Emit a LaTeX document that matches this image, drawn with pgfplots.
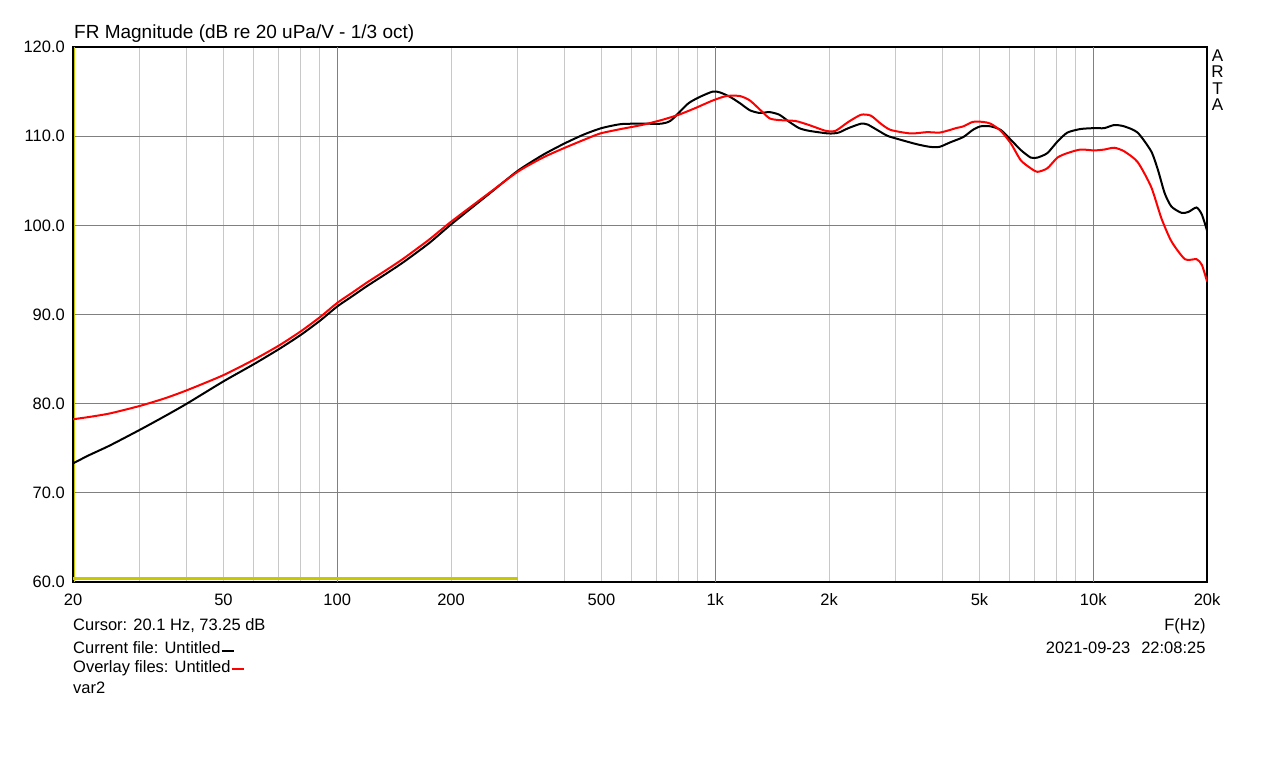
\documentclass[border=0pt]{standalone}
\usepackage{fontspec}
\setmainfont{Liberation Sans}
\usepackage{pgfplots}
\pgfplotsset{compat=1.18}
\definecolor{gridlight}{RGB}{200,200,200}
\definecolor{griddark}{RGB}{128,128,128}
\definecolor{cursoryel}{RGB}{200,200,0}
\definecolor{artared}{RGB}{255,0,0}

\pgfplotstableread{
f db
20 73.3
22 74.2
25 75.3
30 77.05
35 78.6
40 80.0
50 82.5
60 84.4
70 86.1
80 87.7
90 89.3
100 90.9
110 92.1
120 93.2
135 94.6
150 95.9
175 98.0
200 100.1
250 103.4
300 106.1
350 107.9
400 109.2
450 110.2
500 110.9
563 111.35
639 111.4
720 111.4
760 111.7
800 112.6
850 113.7
910 114.4
985 115.0
1030 114.9
1095 114.4
1162 113.7
1235 112.9
1311 112.6
1392 112.7
1478 112.4
1570 111.6
1667 110.9
1770 110.6
1996 110.3
2120 110.4
2250 110.9
2430 111.4
2530 111.3
2680 110.7
2850 110.05
3030 109.7
3410 109.1
3700 108.8
3920 108.8
4180 109.3
4530 109.9
4800 110.7
5030 111.1
5350 111.1
5690 110.7
6050 109.6
6430 108.45
6830 107.6
7120 107.6
7560 108.1
8040 109.4
8540 110.4
9250 110.8
10050 110.9
10690 110.9
11360 111.25
12070 111.1
13100 110.4
14230 108.3
14830 106.2
15450 103.6
16100 102.1
17120 101.4
17850 101.5
18760 102.0
19380 101.2
20000 99.4
}\blackdata

\pgfplotstableread{
f db
20 78.25
22 78.5
25 78.9
30 79.74
35 80.6
40 81.5
50 83.2
60 84.9
70 86.5
80 88.1
90 89.7
100 91.3
110 92.5
120 93.6
135 95.0
150 96.3
175 98.4
200 100.4
250 103.5
300 106.0
350 107.6
400 108.7
450 109.6
496 110.3
563 110.8
639 111.25
720 111.8
800 112.4
880 113.1
985 114.0
1070 114.5
1162 114.5
1235 114.0
1311 113.0
1392 112.0
1478 111.8
1630 111.7
1770 111.25
1960 110.6
2080 110.6
2250 111.6
2430 112.4
2580 112.3
2740 111.4
2910 110.7
3290 110.3
3630 110.45
3920 110.4
4180 110.7
4330 110.9
4530 111.1
4800 111.6
5100 111.6
5350 111.4
5690 110.6
6050 109.2
6430 107.3
6830 106.4
7120 106.0
7560 106.4
8040 107.6
8540 108.1
9250 108.5
10050 108.4
10690 108.5
11360 108.7
12070 108.3
13100 107.1
14230 104.3
15140 100.8
16100 98.2
17480 96.2
18760 96.2
19380 95.55
20000 93.7
}\reddata

\begin{document}
\begin{tikzpicture}
\fontsize{16.5}{20}\selectfont
\path[use as bounding box] (0pt,0pt) rectangle (1279pt,768pt);
\begin{axis}[
  at={(73pt,186pt)}, anchor=south west,
  width=1134pt, height=535pt, scale only axis,
  xmode=log, xmin=20, xmax=20000, ymin=60, ymax=120,
  xtick={20,50,100,200,500,1000,2000,5000,10000,20000},
  xticklabels={20,50,100,200,500,1k,2k,5k,10k,20k},
  minor xtick={20,30,40,50,60,70,80,90,200,300,400,500,600,700,800,900,2000,3000,4000,5000,6000,7000,8000,9000},
  xminorgrids=true,
  minor grid style={draw=gridlight, line width=1pt},
  extra x ticks={100,1000,10000},
  extra x tick labels={},
  extra x tick style={grid=major},
  ytick={60,70,80,90,100,110,120},
  yticklabels={60.0,70.0,80.0,90.0,100.0,110.0,120.0},
  ymajorgrids=true,
  major grid style={draw=griddark, line width=1pt},
  major tick length=0pt, minor tick length=0pt,
  axis line style={line width=1.2pt, black},
  ticklabel style={font=\fontsize{16.5}{20}\selectfont},
  xticklabel style={anchor=base, inner sep=0pt, yshift=-24pt},
  yticklabel style={anchor=east, inner sep=0pt, xshift=-8pt},
  clip=true,
]
\addplot[cursoryel, line width=2.3pt] coordinates {(20,60.38) (300,60.38)};
\addplot[cursoryel, line width=0.9pt] coordinates {(20.12,60) (20.12,120)};
\addplot[black, line width=2pt, smooth, tension=0.4] table[x=f,y=db] {\blackdata};
\addplot[artared, line width=2pt, smooth, tension=0.4] table[x=f,y=db] {\reddata};
\end{axis}
\node[anchor=base west, inner sep=0pt, font=\fontsize{19}{22}\selectfont] at (74pt,729.7pt) {FR Magnitude (dB re 20 uPa/V - 1/3 oct)};
\begin{scope}[every node/.style={anchor=base, inner sep=0pt, font=\fontsize{17}{20}\selectfont}]
\node at (1217.5pt,706.3pt) {A};
\node at (1217.5pt,690.3pt) {R};
\node at (1217.5pt,673.7pt) {T};
\node at (1217.5pt,657.3pt) {A};
\end{scope}
\node[anchor=base west, inner sep=0pt] at (73pt,137.3pt) {Cursor: 20.1 Hz, 73.25 dB};
\node[anchor=base west, inner sep=0pt] at (73pt,114.7pt) {Current file: Untitled\hspace{1pt}{\color{black}\rule[1pt]{12pt}{2.6pt}}};
\node[anchor=base west, inner sep=0pt] at (73pt,95.3pt) {Overlay files: Untitled\hspace{1pt}{\color{artared}\rule[2.5pt]{12pt}{2.6pt}}};
\node[anchor=base west, inner sep=0pt] at (73pt,74.7pt) {var2};
\node[anchor=base east, inner sep=0pt] at (1205.7pt,137pt) {F(Hz)};
\node[anchor=base east, inner sep=0pt] at (1205.7pt,114.7pt) {2021-09-23\hspace{11pt}22:08:25};
\end{tikzpicture}
\end{document}
